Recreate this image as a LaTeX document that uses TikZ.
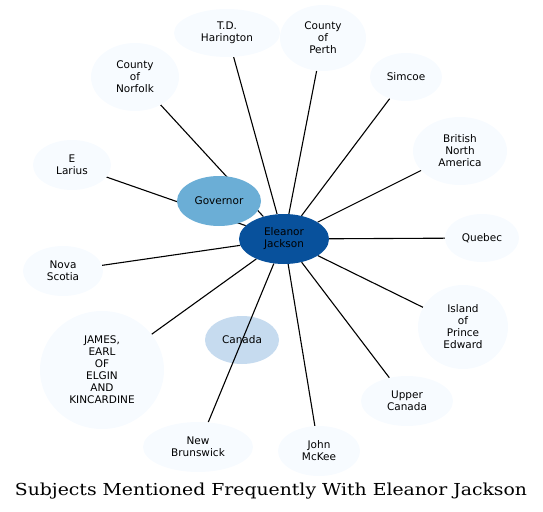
\documentclass[tikz,border=0pt]{standalone}
\usepackage{fontspec}
\usepackage{graphicx}
\setmainfont{DejaVu Sans}
\newfontfamily\titlefont{DejaVu Serif}
\usetikzlibrary{shapes.geometric}
\pgfdeclarelayer{back}
\pgfsetlayers{back,main}
\definecolor{outerfill}{HTML}{F7FBFF}
\definecolor{hubfill}{HTML}{08519C}
\definecolor{govfill}{HTML}{6BAED6}
\definecolor{canfill}{HTML}{C6DBEF}
\tikzset{
  ent/.style={ellipse, draw=none, fill=outerfill, inner sep=0pt, align=center,
    font=\fontsize{10.5}{12}\selectfont, text=black},
  conn/.style={draw=black, line width=1.1pt},
}
\begin{document}
\begin{tikzpicture}[x=1pt,y=-1pt]
\useasboundingbox (0,0) rectangle (543,511);
% nodes
\node[ent, fill=hubfill, minimum width=90, minimum height=50] (ej) at (284,239) {Eleanor\\Jackson};
\node[ent, fill=govfill, minimum width=84, minimum height=50] (gov) at (219,201) {Governor};
\node[ent, minimum width=106, minimum height=48] (td) at (227,33) {T.D.\\Harington};
\node[ent, minimum width=86, minimum height=66] (perth) at (323,38) {County\\of\\Perth};
\node[ent, minimum width=88, minimum height=68] (norfolk) at (135,77) {County\\of\\Norfolk};
\node[ent, minimum width=72, minimum height=48] (simcoe) at (406,77) {Simcoe};
\node[ent, minimum width=94, minimum height=68] (bna) at (460,151) {British\\North\\America};
\node[ent, minimum width=78, minimum height=50] (larius) at (72,165) {E\\Larius};
\node[ent, minimum width=74, minimum height=48] (quebec) at (482,238) {Quebec};
\node[ent, minimum width=80, minimum height=50] (nova) at (63,271) {Nova\\Scotia};
\node[ent, minimum width=90, minimum height=84] (pei) at (463,327) {Island\\of\\Prince\\Edward};
\node[ent, minimum width=124, minimum height=118] (james) at (102,370) {JAMES,\\EARL\\OF\\ELGIN\\AND\\KINCARDINE};
\node[ent, minimum width=92, minimum height=50] (upper) at (407,401) {Upper\\Canada};
\node[ent, minimum width=110, minimum height=50] (nb) at (198,447) {New\\Brunswick};
\node[ent, minimum width=82, minimum height=50] (mckee) at (319,451) {John\\McKee};
% Canada and connectors below the other nodes
\begin{pgfonlayer}{back}
\node[ent, fill=canfill, minimum width=74, minimum height=48] (canada) at (242,340) {Canada};
\foreach \t in {td,perth,norfolk,simcoe,bna,larius,quebec,nova,pei,james,upper,nb,mckee}
  \draw[conn] (ej) -- (\t);
\end{pgfonlayer}
\node[anchor=base, inner sep=0pt, font=\titlefont\fontsize{16.5}{19}\selectfont] (title) at (271,495) {\scalebox{1.14}[1]{Subjects Mentioned Frequently With Eleanor Jackson}};
\end{tikzpicture}
\end{document}
